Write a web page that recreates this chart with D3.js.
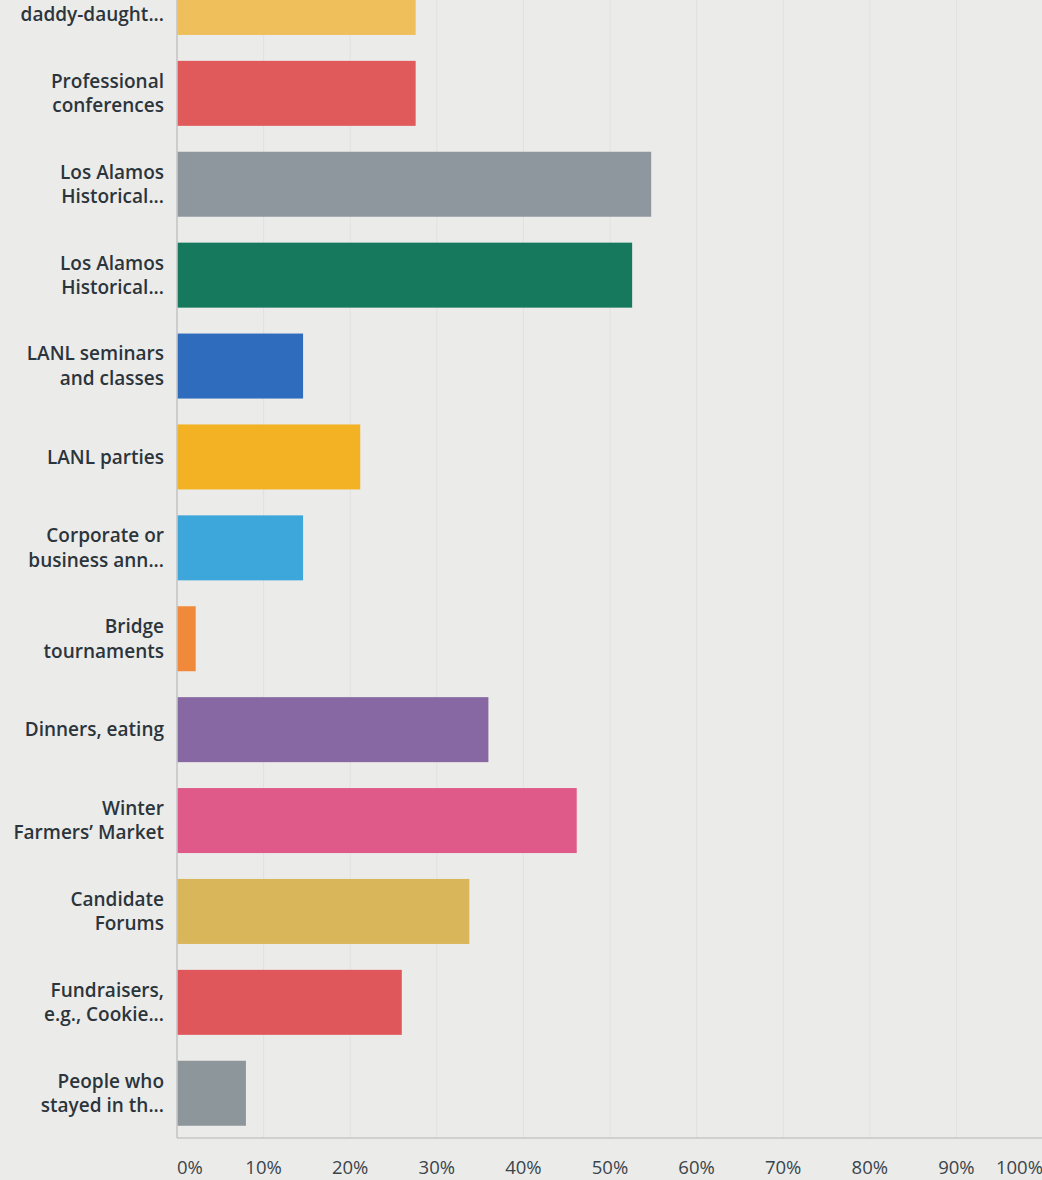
<!DOCTYPE html>
<html>
<head>
<meta charset="utf-8">
<script src="https://cdn.jsdelivr.net/npm/d3@7"></script>
<style>
  html, body { margin: 0; padding: 0; background: #ebebea; }
  svg { display: block; }
  text { font-family: "Open Sans", "Noto Sans", sans-serif; }
</style>
</head>
<body>
<svg id="chart" width="1042" height="1180"></svg>
<script>
// ---- data ----
const categories = [
  "daddy-daughter",
  "Professional conferences",
  "Los Alamos Historical 1",
  "Los Alamos Historical 2",
  "LANL seminars and classes",
  "LANL parties",
  "Corporate or business ann",
  "Bridge tournaments",
  "Dinners, eating",
  "Winter Farmers' Market",
  "Candidate Forums",
  "Fundraisers",
  "People who stayed"
];
const labelLines = [
  ["", "daddy-daught..."],
  ["Professional", "conferences"],
  ["Los Alamos", "Historical..."],
  ["Los Alamos", "Historical..."],
  ["LANL seminars", "and classes"],
  ["LANL parties"],
  ["Corporate or", "business ann..."],
  ["Bridge", "tournaments"],
  ["Dinners, eating"],
  ["Winter", "Farmers\u2019 Market"],
  ["Candidate", "Forums"],
  ["Fundraisers,", "e.g., Cookie..."],
  ["People who", "stayed in th..."]
];
const values = [0.275, 0.275, 0.547, 0.525, 0.145, 0.211, 0.145, 0.021, 0.359, 0.461, 0.337, 0.259, 0.079];
const colors = ["#efbf5c", "#e0595b", "#8f979e", "#16795d", "#2f6cbd", "#f3b124", "#3da6da", "#f08a3a",
                "#8868a2", "#df5a88", "#d9b65a", "#df575a", "#8c969b"];
const tickValues = [0, 0.1, 0.2, 0.3, 0.4, 0.5, 0.6, 0.7, 0.8, 0.9, 1.0];
const tickLabels = ["0%", "10%", "20%", "30%", "40%", "50%", "60%", "70%", "80%", "90%", "100%"];

// ---- layout ----
const svg = d3.select("#chart");
const x = d3.scaleLinear().domain([0, 1]).range([177, 1043]);
const y = d3.scaleBand().domain(categories).range([-43, 1138.7]).paddingInner(0.285).paddingOuter(0.1425);
const axisY = 1138;

// gridlines
svg.append("g").selectAll("line").data(tickValues.slice(1)).join("line")
  .attr("x1", d => x(d)).attr("x2", d => x(d))
  .attr("y1", 0).attr("y2", axisY)
  .attr("stroke", "#e1e1e0").attr("stroke-width", 1);

// bars
svg.append("g").selectAll("rect").data(categories).join("rect")
  .attr("x", x(0) + 0.5)
  .attr("y", d => y(d))
  .attr("width", (d, i) => x(values[i]) - x(0))
  .attr("height", y.bandwidth())
  .attr("fill", (d, i) => colors[i]);

// axes lines
svg.append("line").attr("x1", x(0)).attr("x2", x(0)).attr("y1", 0).attr("y2", axisY)
  .attr("stroke", "#b9b9b9").attr("stroke-width", 1.2);
svg.append("line").attr("x1", x(0)).attr("x2", 1042).attr("y1", axisY).attr("y2", axisY)
  .attr("stroke", "#b5b5b5").attr("stroke-width", 1.2);

// category labels
const lab = svg.append("g").selectAll("text").data(categories).join("text")
  .attr("text-anchor", "end")
  .attr("font-size", 19)
  .attr("font-weight", 600)
  .attr("fill", "#2b353b");
lab.each(function(d, i) {
  const lines = labelLines[i];
  const cy = y(d) + y.bandwidth() / 2;
  const lh = 24.5;
  const start = cy - (lines.length - 1) * lh / 2;
  lines.forEach((t, k) => {
    d3.select(this).append("tspan")
      .attr("x", 164)
      .attr("y", start + k * lh)
      .attr("dy", "0.35em")
      .text(t);
  });
});

// tick labels
svg.append("g").selectAll("text").data(tickValues).join("text")
  .attr("x", d => x(d))
  .attr("y", 1168)
  .attr("dy", "0.35em")
  .attr("text-anchor", (d, i) => i === 0 ? "start" : (i === tickValues.length - 1 ? "end" : "middle"))
  .attr("font-size", 18.5)
  .attr("font-weight", 500)
  .attr("fill", "#3a454b")
  .text((d, i) => tickLabels[i]);
</script>
</body>
</html>
